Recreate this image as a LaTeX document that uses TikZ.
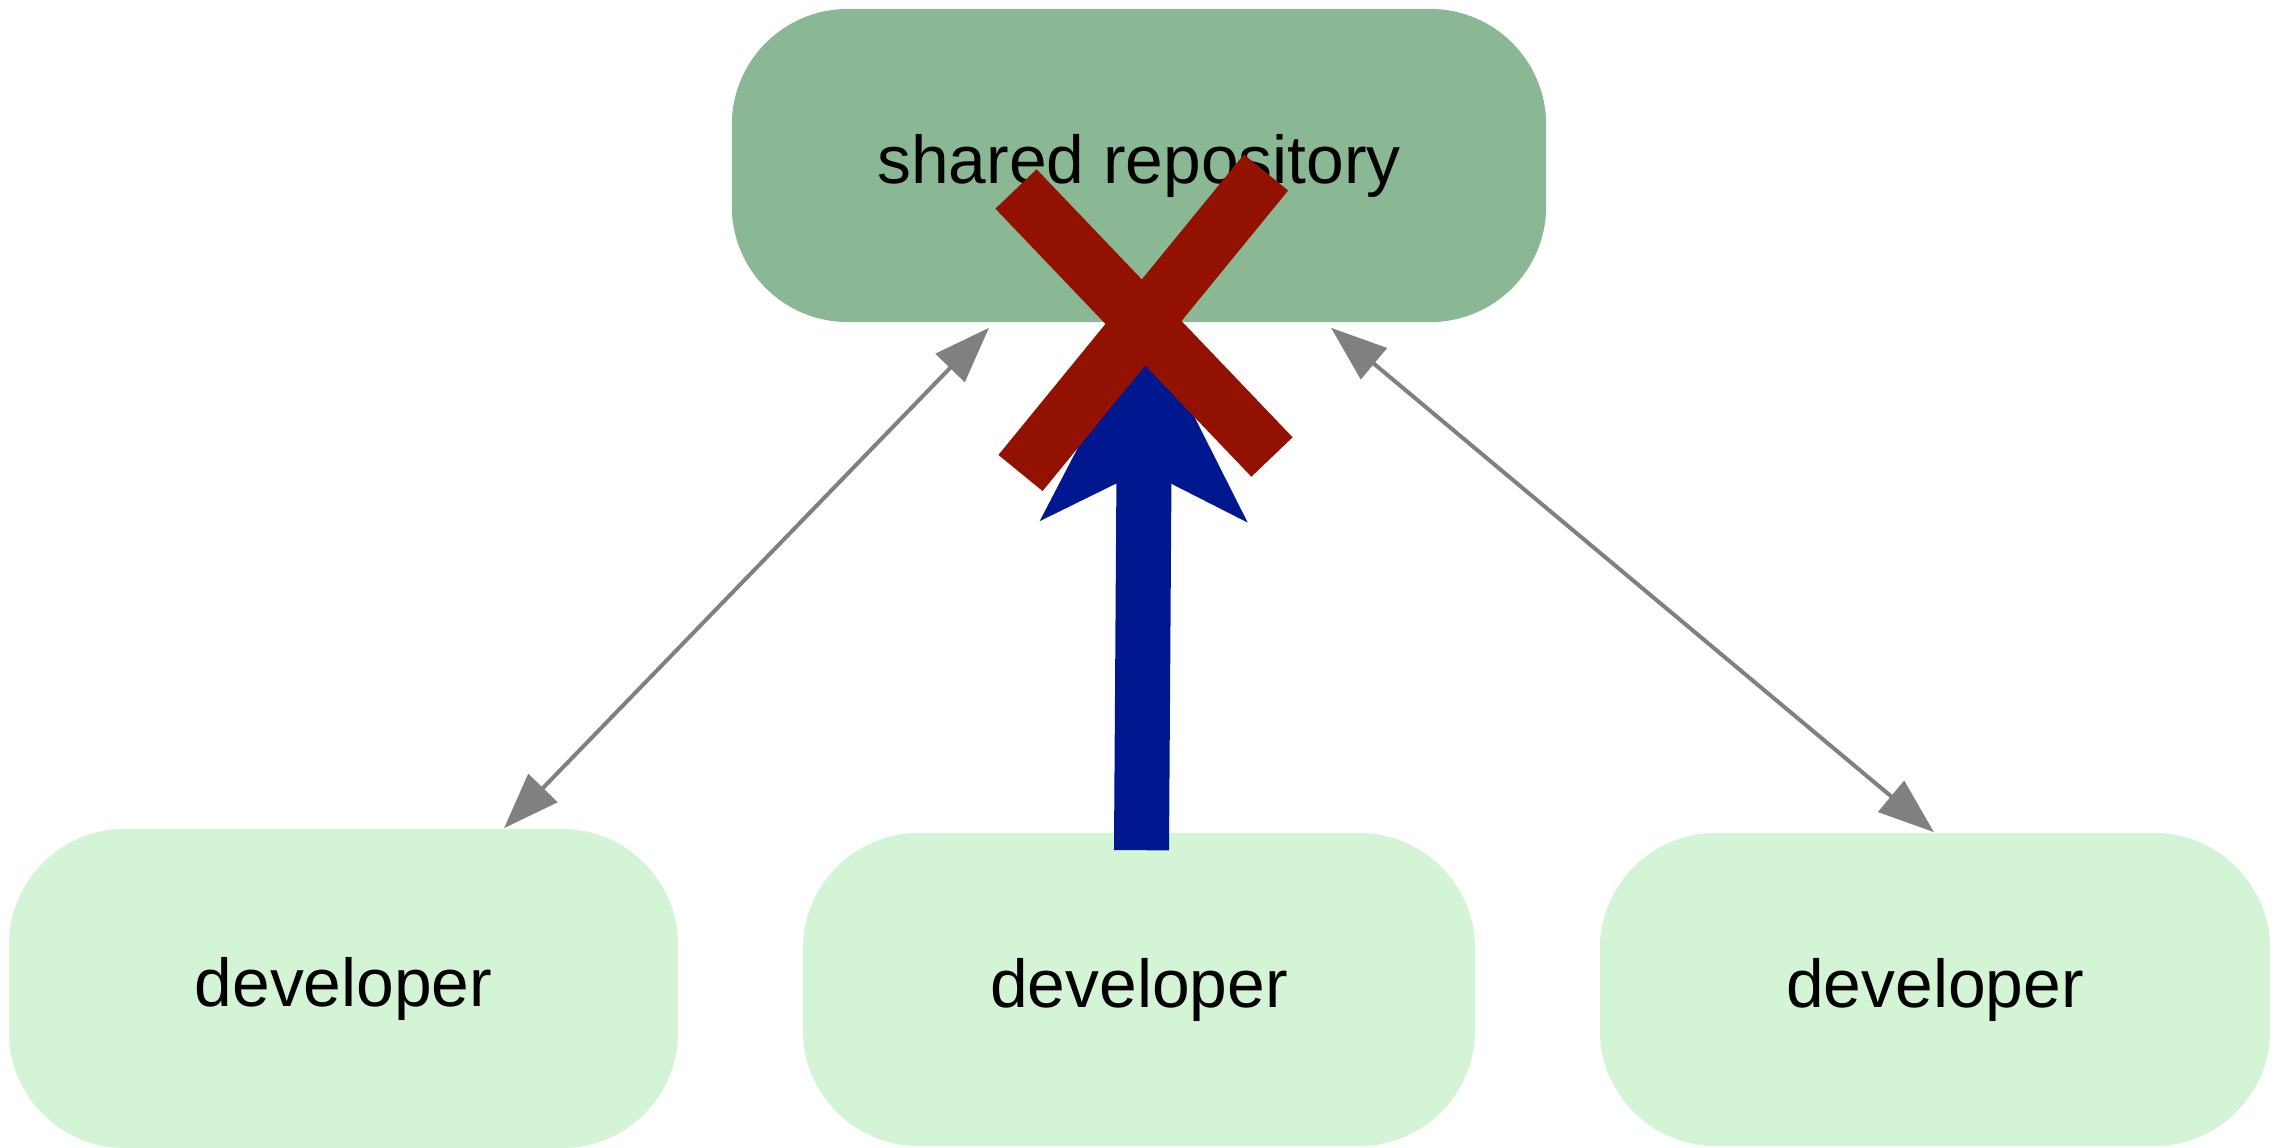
\documentclass[tikz,border=0pt]{standalone}
\usepackage{fontspec}
\setmainfont{Liberation Sans}
\usetikzlibrary{arrows.meta,calc}
\definecolor{repogreen}{HTML}{8BB894}
\definecolor{devgreen}{HTML}{D4F4D6}
\definecolor{edgegray}{HTML}{808080}
\definecolor{pushblue}{HTML}{00188F}
\definecolor{crossred}{HTML}{931100}
\tikzset{
  box/.style={rectangle, rounded corners=1.16cm, inner sep=0pt, draw=none,
    font=\fontsize{19.26pt}{23pt}\selectfont, text=black},
  repobox/.style={box, fill=repogreen, minimum width=8.14cm, minimum height=3.13cm},
  devbox/.style={box, fill=devgreen, minimum height=3.13cm},
  syncedge/.style={draw=edgegray, line width=0.04cm,
    {Triangle[length=0.56cm, width=0.40cm]}-{Triangle[length=0.56cm, width=0.40cm]}},
  pushedge/.style={draw=pushblue, line width=0.55cm,
    -{Stealth[length=2.03cm, width=2.08cm, inset=0.52cm, line width=0pt]}},
  crossbar/.style={draw=crossred, line width=0.57cm}
}
\begin{document}
\begin{tikzpicture}[x=0.01cm, y=-0.01cm]
\useasboundingbox (0,0) rectangle (2274,1148);
\node[repobox] (repo) at (1139,165.5) {shared repository};
\node[devbox, minimum width=6.69cm, minimum height=3.19cm] (dev1) at (343.5,988.5) {developer};
\node[devbox, minimum width=6.72cm] (dev2) at (1139,989.5) {developer};
\node[devbox, minimum width=6.70cm] (dev3) at (1935,989.5) {developer};
\draw[syncedge] ($(dev1.north)+(160.5,0)$) -- ($(repo.south)+(-150,5)$);
\draw[syncedge] ($(dev3.north)+(-1,0)$) -- ($(repo.south)+(192,5)$);
\draw[pushedge] ($(dev2.north)+(2.5,18)$) -- ($(repo.south)+(6,-4)$);
\draw[crossbar] (1016,189) -- (1272,457);
\draw[crossbar] (1266,172.5) -- (1020.5,473);
\end{tikzpicture}
\end{document}
